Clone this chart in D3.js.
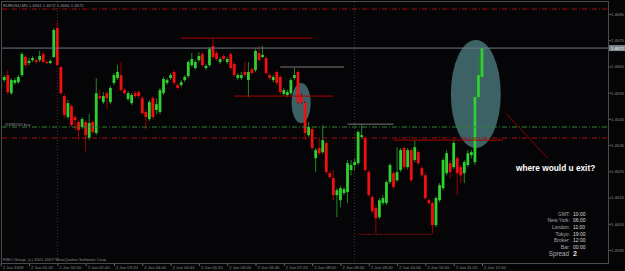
<!DOCTYPE html>
<html lang="en">
<head>
  <meta charset="UTF-8">
  <title>EURUSD M5</title>
  <script src="https://d3js.org/d3.v7.min.js"></script>
  <style>
    body { margin: 0; background: #050507; }
    svg { display: block; }
    text { font-family: "Liberation Sans", Arial, sans-serif; }
  </style>
</head>
<body>
  <svg id="chart"></svg>
  <script>
    // 5 minute bars, 2 Jun 2009 00:40 .. 12:00
    const opens = [
      1.46568, 1.46598, 1.46617, 1.46548, 1.46587, 1.46590, 1.46617, 1.46686, 1.46663, 1.46674,
      1.46674, 1.46674, 1.46697, 1.46667, 1.46663, 1.46686, 1.46797, 1.46648, 1.46537, 1.46457,
      1.46499, 1.46457, 1.46438, 1.46419, 1.46438, 1.46377, 1.46438, 1.46396, 1.46537, 1.46514,
      1.46548, 1.46514, 1.46587, 1.46606, 1.46617, 1.46560, 1.46526, 1.46510, 1.46548, 1.46552,
      1.46529, 1.46476, 1.46449, 1.46529, 1.46484, 1.46476, 1.46548, 1.46587, 1.46606, 1.46629,
      1.46579, 1.46579, 1.46598, 1.46613, 1.46655, 1.46644, 1.46674, 1.46697, 1.46644, 1.46655,
      1.46728, 1.46701, 1.46667, 1.46690, 1.46667, 1.46697, 1.46659, 1.46606, 1.46606, 1.46629,
      1.46598, 1.46640, 1.46636, 1.46701, 1.46686, 1.46682, 1.46617, 1.46598, 1.46629, 1.46610,
      1.46545, 1.46541, 1.46548, 1.46606, 1.46629, 1.46533, 1.46510, 1.46388, 1.46411, 1.46300,
      1.46339, 1.46323, 1.46358, 1.46243, 1.46224, 1.46159, 1.46140, 1.46167, 1.46171, 1.46255,
      1.46274, 1.46281, 1.46381, 1.46377, 1.46247, 1.46152, 1.46110, 1.46075, 1.46129, 1.46129,
      1.46209, 1.46243, 1.46216, 1.46255, 1.46339, 1.46266, 1.46331, 1.46293, 1.46323, 1.46262,
      1.46235, 1.46140, 1.46129, 1.46045, 1.46140, 1.46186, 1.46243, 1.46281, 1.46266, 1.46300,
      1.46266, 1.46243, 1.46274, 1.46312, 1.46285, 1.46533, 1.46610
    ];
    const highs = [
      1.46594, 1.46617, 1.46636, 1.46606, 1.46606, 1.46617, 1.46705, 1.46694, 1.46682, 1.46690,
      1.46682, 1.46709, 1.46705, 1.46674, 1.46678, 1.46797, 1.46820, 1.46652, 1.46545, 1.46522,
      1.46506, 1.46465, 1.46445, 1.46457, 1.46445, 1.46468, 1.46445, 1.46606, 1.46560, 1.46552,
      1.46556, 1.46575, 1.46625, 1.46655, 1.46667, 1.46568, 1.46556, 1.46548, 1.46556, 1.46560,
      1.46537, 1.46484, 1.46522, 1.46537, 1.46529, 1.46568, 1.46610, 1.46606, 1.46625, 1.46636,
      1.46587, 1.46598, 1.46617, 1.46674, 1.46701, 1.46674, 1.46705, 1.46705, 1.46659, 1.46724,
      1.46758, 1.46709, 1.46686, 1.46697, 1.46686, 1.46705, 1.46667, 1.46625, 1.46629, 1.46667,
      1.46667, 1.46648, 1.46716, 1.46728, 1.46728, 1.46690, 1.46625, 1.46617, 1.46636, 1.46617,
      1.46568, 1.46560, 1.46606, 1.46644, 1.46636, 1.46548, 1.46518, 1.46438, 1.46419, 1.46339,
      1.46377, 1.46426, 1.46365, 1.46251, 1.46255, 1.46186, 1.46194, 1.46190, 1.46293, 1.46293,
      1.46300, 1.46407, 1.46430, 1.46384, 1.46255, 1.46159, 1.46121, 1.46148, 1.46159, 1.46216,
      1.46281, 1.46251, 1.46342, 1.46339, 1.46346, 1.46339, 1.46339, 1.46369, 1.46331, 1.46270,
      1.46243, 1.46148, 1.46136, 1.46155, 1.46205, 1.46300, 1.46331, 1.46293, 1.46369, 1.46308,
      1.46274, 1.46293, 1.46331, 1.46331, 1.46541, 1.46686, 1.46724
    ];
    const lows = [
      1.46560, 1.46590, 1.46541, 1.46541, 1.46579, 1.46583, 1.46610, 1.46648, 1.46655, 1.46667,
      1.46659, 1.46667, 1.46663, 1.46659, 1.46659, 1.46682, 1.46652, 1.46541, 1.46453, 1.46449,
      1.46419, 1.46407, 1.46369, 1.46411, 1.46327, 1.46369, 1.46392, 1.46388, 1.46522, 1.46506,
      1.46487, 1.46506, 1.46579, 1.46598, 1.46552, 1.46541, 1.46518, 1.46503, 1.46529, 1.46529,
      1.46465, 1.46411, 1.46442, 1.46449, 1.46468, 1.46468, 1.46541, 1.46579, 1.46598, 1.46579,
      1.46560, 1.46571, 1.46590, 1.46606, 1.46648, 1.46636, 1.46667, 1.46648, 1.46636, 1.46648,
      1.46678, 1.46671, 1.46659, 1.46671, 1.46659, 1.46636, 1.46610, 1.46598, 1.46598, 1.46610,
      1.46533, 1.46617, 1.46629, 1.46667, 1.46682, 1.46617, 1.46598, 1.46590, 1.46579, 1.46545,
      1.46537, 1.46533, 1.46541, 1.46598, 1.46506, 1.46506, 1.46369, 1.46381, 1.46331, 1.46247,
      1.46312, 1.46316, 1.46239, 1.46220, 1.46140, 1.46075, 1.46113, 1.46159, 1.46129, 1.46235,
      1.46255, 1.46274, 1.46373, 1.46247, 1.46152, 1.46090, 1.46014, 1.46068, 1.46121, 1.46121,
      1.46201, 1.46182, 1.46209, 1.46247, 1.46258, 1.46258, 1.46209, 1.46285, 1.46274, 1.46228,
      1.46140, 1.46121, 1.46014, 1.46037, 1.46132, 1.46178, 1.46235, 1.46224, 1.46258, 1.46159,
      1.46205, 1.46205, 1.46266, 1.46300, 1.46274, 1.46526, 1.46602
    ];
    const closes = [
      1.46587, 1.46610, 1.46552, 1.46598, 1.46598, 1.46610, 1.46697, 1.46655, 1.46671, 1.46682,
      1.46667, 1.46690, 1.46667, 1.46663, 1.46671, 1.46789, 1.46655, 1.46548, 1.46465, 1.46510,
      1.46426, 1.46445, 1.46407, 1.46449, 1.46388, 1.46434, 1.46400, 1.46548, 1.46529, 1.46537,
      1.46529, 1.46568, 1.46617, 1.46629, 1.46560, 1.46548, 1.46548, 1.46541, 1.46537, 1.46537,
      1.46472, 1.46457, 1.46514, 1.46457, 1.46506, 1.46560, 1.46602, 1.46598, 1.46617, 1.46587,
      1.46568, 1.46590, 1.46610, 1.46667, 1.46678, 1.46667, 1.46690, 1.46655, 1.46652, 1.46716,
      1.46686, 1.46678, 1.46678, 1.46678, 1.46678, 1.46644, 1.46617, 1.46617, 1.46617, 1.46617,
      1.46629, 1.46625, 1.46709, 1.46674, 1.46694, 1.46625, 1.46606, 1.46610, 1.46587, 1.46552,
      1.46560, 1.46552, 1.46598, 1.46617, 1.46514, 1.46514, 1.46396, 1.46419, 1.46339, 1.46331,
      1.46319, 1.46369, 1.46247, 1.46228, 1.46159, 1.46178, 1.46186, 1.46182, 1.46281, 1.46274,
      1.46285, 1.46400, 1.46388, 1.46255, 1.46159, 1.46098, 1.46071, 1.46140, 1.46148, 1.46209,
      1.46274, 1.46190, 1.46247, 1.46331, 1.46266, 1.46331, 1.46216, 1.46342, 1.46281, 1.46235,
      1.46148, 1.46129, 1.46045, 1.46148, 1.46197, 1.46293, 1.46319, 1.46247, 1.46358, 1.46243,
      1.46235, 1.46285, 1.46319, 1.46323, 1.46533, 1.46617, 1.46720
    ];

    const timeLabels = ["2 Jun 2009", "2 Jun 01:20", "2 Jun 02:00", "2 Jun 02:40", "2 Jun 03:20", "2 Jun 04:00",
      "2 Jun 04:40", "2 Jun 05:20", "2 Jun 06:00", "2 Jun 06:40", "2 Jun 07:20", "2 Jun 08:00",
      "2 Jun 08:40", "2 Jun 09:20", "2 Jun 10:00", "2 Jun 10:40", "2 Jun 11:20", "2 Jun 12:00"];
    const labelBars = [0, 8, 16, 24, 32, 40, 48, 56, 64, 72, 80, 88, 96, 104, 112, 120, 128, 136];
    const priceTicks = [1.4685, 1.4675, 1.4665, 1.4655, 1.4645, 1.4635, 1.4625, 1.4615, 1.4605, 1.4595];

    // order levels (full width dash-dot lines)
    const takeProfit = 1.46869;
    const openPrice = 1.46419;
    const stopLoss = 1.46377;
    const ticketLabel = "#5938150 buy";

    // drawn objects
    const redTrendLines = [
      { price: 1.46758, from: 51, to: 88 },
      { price: 1.46537, from: 66, to: 94 },
      { price: 1.46369, from: 111, to: 142 }
    ];
    const grayTrendLines = [
      { price: 1.46648, from: 79, to: 97 },
      { price: 1.46430, from: 98, to: 111 }
    ];
    const dottedLow = { price: 1.46010, from: 101, to: 122 };
    const ellipses = [
      { from: 82.2, to: 87.6, top: 1.46587, bottom: 1.46434 },
      { from: 127.2, to: 141.3, top: 1.46751, bottom: 1.46339 }
    ];
    const pointerLine = { from: 142.7, p1: 1.46472, to: 154.6, p2: 1.46300 };
    const separatorBars = [16, 100];

    const infoLabels = ["GMT:", "New York:", "London:", "Tokyo:", "Broker:", "Bar:"];
    const infoValues = ["10:00", "06:00", "11:00", "19:00", "12:00", "00:00"];
    const spread = 2;

    const width = 625, height = 271;
    const plotL = 2, plotR = 608, plotT = 2, plotB = 263;

    const svg = d3.select("#chart").attr("width", width).attr("height", height);
    svg.append("rect").attr("width", width).attr("height", height).attr("fill", "#050507");

    const x = d3.scaleLinear().domain([0, 136]).range([0.7, 482]);
    const y = d3.scaleLinear().domain([1.4595, 1.4685]).range([250, 14]);

    svg.append("clipPath").attr("id", "plot")
      .append("rect").attr("x", plotL).attr("y", plotT).attr("width", plotR - plotL).attr("height", plotB - plotT);
    const plot = svg.append("g").attr("clip-path", "url(#plot)");

    // period separators
    plot.selectAll(".sep").data(separatorBars).enter().append("line")
      .attr("x1", d => x(d)).attr("x2", d => x(d))
      .attr("y1", plotT).attr("y2", plotB)
      .attr("stroke", "#3a3a3a").attr("stroke-dasharray", "1,2");

    // ellipses drawn as background
    plot.selectAll(".ell").data(ellipses).enter().append("ellipse")
      .attr("cx", d => x((d.from + d.to) / 2))
      .attr("cy", d => (y(d.top) + y(d.bottom)) / 2)
      .attr("rx", d => (x(d.to) - x(d.from)) / 2)
      .attr("ry", d => (y(d.bottom) - y(d.top)) / 2)
      .attr("fill", "#3d6266");

    // candles
    const bars = d3.range(opens.length);
    const bodyW = 2.8;
    plot.selectAll(".wick").data(bars).enter().append("line")
      .attr("x1", i => x(i)).attr("x2", i => x(i))
      .attr("y1", i => y(highs[i])).attr("y2", i => y(lows[i]))
      .attr("stroke", i => closes[i] >= opens[i] ? "#1d8a1d" : "#9a0000")
      .attr("stroke-width", 1);
    plot.selectAll(".body").data(bars).enter().append("rect")
      .attr("x", i => x(i) - bodyW / 2)
      .attr("y", i => y(Math.max(opens[i], closes[i])))
      .attr("width", bodyW)
      .attr("height", i => Math.max(1, Math.abs(y(opens[i]) - y(closes[i]))))
      .attr("fill", i => closes[i] >= opens[i] ? "#2fd02f" : "#f01010");

    // full width levels
    const hline = (price, color, dash) => plot.append("line")
      .attr("x1", plotL).attr("x2", plotR)
      .attr("y1", y(price)).attr("y2", y(price))
      .attr("stroke", color).attr("stroke-dasharray", dash);
    hline(takeProfit, "#a81212", "5,2,1,2");
    hline(openPrice, "#2f852f", "5,2,1,2");
    hline(stopLoss, "#a81212", "5,2,1,2");
    hline(closes[closes.length - 1], "#6d7b80", null);

    plot.append("text").attr("x", 4).attr("y", y(openPrice) - 1.5)
      .attr("font-size", 4.2).attr("fill", "#8e8e8e").text(ticketLabel);

    // trend lines
    plot.selectAll(".red").data(redTrendLines).enter().append("line")
      .attr("x1", d => x(d.from)).attr("x2", d => x(d.to))
      .attr("y1", d => y(d.price)).attr("y2", d => y(d.price))
      .attr("stroke", "#b00000");
    plot.selectAll(".gray").data(grayTrendLines).enter().append("line")
      .attr("x1", d => x(d.from)).attr("x2", d => x(d.to))
      .attr("y1", d => y(d.price)).attr("y2", d => y(d.price))
      .attr("stroke", "#7a7a7a");
    plot.append("line")
      .attr("x1", x(dottedLow.from)).attr("x2", x(dottedLow.to))
      .attr("y1", y(dottedLow.price)).attr("y2", y(dottedLow.price))
      .attr("stroke", "#c01010").attr("stroke-dasharray", "1,1");
    plot.append("line")
      .attr("x1", x(pointerLine.from)).attr("y1", y(pointerLine.p1))
      .attr("x2", x(pointerLine.to)).attr("y2", y(pointerLine.p2))
      .attr("stroke", "#8a0000");

    plot.append("text").attr("x", x(145.6)).attr("y", y(1.46251))
      .attr("font-size", 8.3).attr("font-weight", "bold").attr("fill", "#ffffff")
      .text("where would u exit?");

    // header and copyright
    const fmt = d3.format(".4f");
    const last = opens.length - 1;
    svg.append("text").attr("x", 3).attr("y", 6.5).attr("font-size", 4.2).attr("fill", "#9a9a9a")
      .text(`EURUSD,M5  ${fmt(opens[last])} ${fmt(highs[last])} ${fmt(lows[last])} ${fmt(closes[last])}`);
    svg.append("text").attr("x", 3).attr("y", 260.5).attr("font-size", 4.2).attr("fill", "#8a8a8a")
      .text("FIBO Group, (c) 2001-2007 MetaQuotes Software Corp.");

    // info panel
    const rowY = [215.8, 222.4, 229, 235.5, 242.3, 248.8];
    infoLabels.forEach((lab, k) => {
      svg.append("text").attr("x", 570).attr("y", rowY[k]).attr("text-anchor", "end")
        .attr("font-size", 5).attr("fill", "#a8a8a8").text(lab);
      svg.append("text").attr("x", 573).attr("y", rowY[k])
        .attr("font-size", 5).attr("fill", "#dcdcdc").text(infoValues[k]);
    });
    svg.append("text").attr("x", 569).attr("y", 256).attr("text-anchor", "end")
      .attr("font-size", 6.3).attr("fill", "#b0b0b0").text("Spread");
    svg.append("text").attr("x", 573).attr("y", 256.3)
      .attr("font-size", 7).attr("font-weight", "bold").attr("fill", "#e0e0e0").text(spread);

    // price axis
    const gy = svg.append("g").attr("transform", `translate(${plotR},0)`)
      .call(d3.axisRight(y).tickValues(priceTicks).tickSize(3).tickFormat(fmt));
    gy.select(".domain").remove();
    gy.selectAll("line").attr("stroke", "#666");
    gy.selectAll("text").attr("x", 3).attr("font-size", 4.2).attr("fill", "#8c8c8c")
      .attr("font-family", "Liberation Sans, Arial, sans-serif");

    const bid = closes[last];
    svg.append("rect").attr("x", plotR).attr("y", y(bid) - 3).attr("width", 17).attr("height", 6)
      .attr("fill", "#7d888d");
    svg.append("text").attr("x", plotR + 3).attr("y", y(bid) + 1.5)
      .attr("font-size", 4.2).attr("fill", "#f0f0f0").text(fmt(bid));

    // time axis
    const gx = svg.append("g").attr("transform", `translate(0,${plotB})`)
      .call(d3.axisBottom(x).tickValues(labelBars).tickSize(3).tickFormat((d, i) => timeLabels[i]));
    gx.select(".domain").remove();
    gx.selectAll("line").attr("stroke", "#666");
    gx.selectAll("text").attr("text-anchor", "start").attr("x", 1.5).attr("y", 6).attr("dy", null)
      .attr("font-size", 4.2).attr("fill", "#8c8c8c")
      .attr("font-family", "Liberation Sans, Arial, sans-serif");

    // frame
    svg.append("rect").attr("x", plotL - 0.5).attr("y", plotT - 0.5)
      .attr("width", plotR - plotL + 1).attr("height", plotB - plotT + 1)
      .attr("fill", "none").attr("stroke", "#4a4a4a");
  </script>
</body>
</html>
